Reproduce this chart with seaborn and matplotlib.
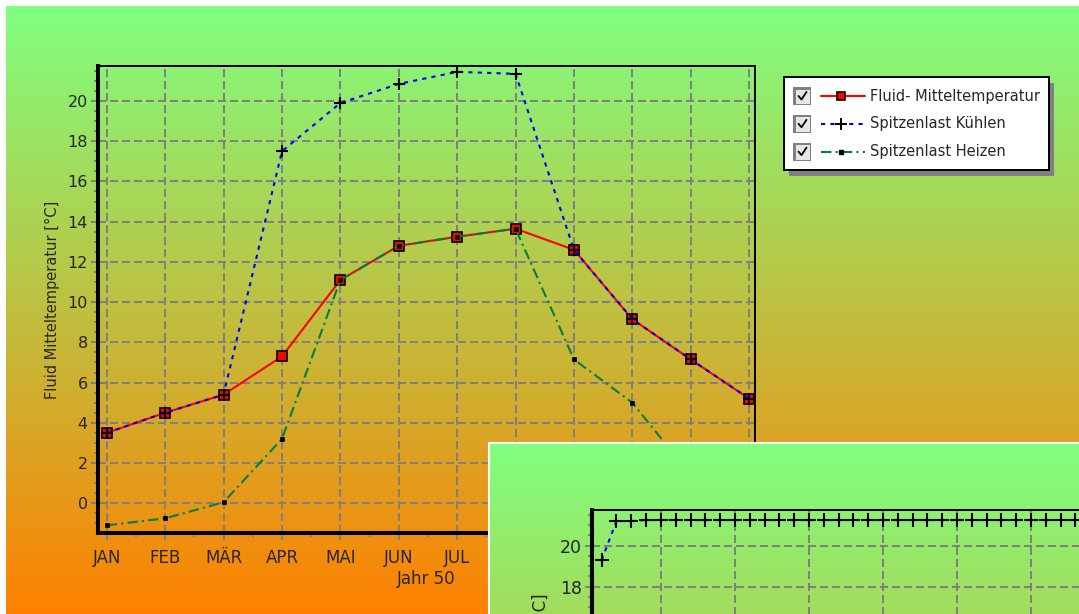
import numpy as np
import pandas as pd
import matplotlib.pyplot as plt
import seaborn as sns
from matplotlib.patches import Rectangle

# monthly values of the main chart (year 50)
months = ["JAN", "FEB", "MÄR", "APR", "MAI", "JUN", "JUL", "AUG", "SEP", "OKT", "NOV", "DEZ"]
fluid_temp = [3.5, 4.5, 5.4, 7.3, 11.1, 12.8, 13.25, 13.65, 12.6, 9.15, 7.15, 5.2]
peak_cooling = [3.5, 4.5, 5.4, 17.5, 19.9, 20.85, 21.45, 21.35, 12.6, 9.15, 7.15, 5.2]
peak_heating = [-1.1, -0.75, 0.05, 3.2, 11.1, 12.8, 13.25, 13.65, 7.15, 5.0, 1.4, -0.6]

# second chart window in front (daily peak cooling)
zoom_days = list(range(1, 35))
zoom_cooling = [19.3, 21.2, 21.2, 21.25, 21.25, 21.25, 21.25, 21.25, 21.25, 21.25,
                21.25, 21.25, 21.25, 21.25, 21.25, 21.25, 21.25, 21.25, 21.25, 21.25,
                21.25, 21.25, 21.25, 21.25, 21.25, 21.25, 21.25, 21.25, 21.25, 21.25,
                21.25, 21.25, 21.25, 21.25]

legend_labels = ["Fluid- Mitteltemperatur", "Spitzenlast Kühlen", "Spitzenlast Heizen"]

sns.set_style("ticks")
plt.rcParams["font.family"] = ["DejaVu Sans"]

W, H = 1079, 614
fig = plt.figure(figsize=(W / 100, H / 100), dpi=100)

RED, BLUE, GREEN, GRAY = "#ff0000", "#0000ff", "#008040", "#808080"
cool_ls = (0, (2, 2.5))
heat_ls = (0, (5, 2, 1, 2))


def px_axes(x0, y0, x1, y1):
    return fig.add_axes([x0 / W, 1 - y1 / H, (x1 - x0) / W, (y1 - y0) / H])


def gradient(n):
    top = np.array([128, 255, 128]) / 255
    bottom = np.array([255, 128, 0]) / 255
    t = np.linspace(0, 1, n)[:, None]
    return (top * (1 - t) + bottom * t)[:, None, :]


def style_axes(a, ysize=11.5):
    a.patch.set_alpha(0)
    a.set_axisbelow(True)
    a.grid(True, which="major", color=GRAY, linestyle=(0, (4, 2)), linewidth=1.44)
    for side, lw in [("left", 2.9), ("bottom", 2.9), ("top", 1.44), ("right", 1.44)]:
        a.spines[side].set_color("black")
        a.spines[side].set_linewidth(lw)
    a.tick_params(axis="y", which="major", length=5.3, width=1.44, color=GRAY,
                  labelsize=ysize, pad=2)
    a.tick_params(axis="y", which="minor", length=3.1, width=1.44, color=GRAY)
    a.tick_params(axis="x", which="major", length=5, width=1.44, color=GRAY,
                  labelsize=12, pad=6.3)
    a.tick_params(axis="x", which="minor", length=2.7, width=1.44, color=GRAY)


# background gradient with thin white margin
bg = px_axes(0, 0, W, H)
bg.set_axis_off()
bg.set_xlim(0, W)
bg.set_ylim(H, 0)
bg.imshow(gradient(608), extent=(6, W, H, 6), aspect="auto")

# main chart
df = pd.DataFrame({
    "pos": np.arange(len(months)),
    "fluid": fluid_temp,
    "cool": peak_cooling,
    "heat": peak_heating,
})

ax = px_axes(98, 66, 755, 533)
style_axes(ax)
sns.lineplot(data=df, x="pos", y="fluid", ax=ax, color=RED, linewidth=1.5,
             marker="s", markersize=6.5, markerfacecolor=RED, markeredgecolor="black",
             markeredgewidth=1.2, legend=False, zorder=3)
sns.lineplot(data=df, x="pos", y="cool", ax=ax, color=BLUE, linewidth=1.5,
             linestyle=cool_ls, marker="+", markersize=8.6, markeredgecolor="black",
             markeredgewidth=1.5, legend=False, zorder=4)
sns.lineplot(data=df, x="pos", y="heat", ax=ax, color=GREEN, linewidth=1.5,
             linestyle=heat_ls, marker="s", markersize=3.5, markerfacecolor="black",
             markeredgecolor="black", markeredgewidth=0.5, legend=False, zorder=5)

ax.set_xlim(-0.15, 11.1)
ax.set_ylim(-1.48, 21.74)
ax.set_xticks(df["pos"], months)
ax.set_xticks(np.arange(0.5, 11, 1), minor=True)
ax.set_yticks(np.arange(0, 21, 2))
ax.set_yticks(np.arange(-1.0, 21.6, 0.5), minor=True)
# month labels from AUG on sit under the front window
for lbl in ax.get_xticklabels()[7:]:
    lbl.set_visible(False)
ax.set_xlabel("Jahr 50", fontsize=12)
ax.xaxis.set_label_coords(0.5, -0.08)
ax.set_ylabel("Fluid Mitteltemperatur [°C]", fontsize=10.5)
ax.yaxis.set_label_coords(-0.058, 0.5)

# legend box with check boxes
lax = px_axes(780, 70, 1060, 180)
lax.set_axis_off()
lax.set_xlim(780, 1060)
lax.set_ylim(180, 70)
lax.add_patch(Rectangle((789, 83), 265, 93, facecolor=GRAY, edgecolor="none"))
lax.add_patch(Rectangle((784, 77), 265, 93, facecolor="white", edgecolor="black", linewidth=1.4))
samples = [
    dict(color=RED, linestyle="-", marker="s", markersize=5.5, markerfacecolor=RED,
         markeredgecolor="black", markeredgewidth=1.2),
    dict(color=BLUE, linestyle=cool_ls, marker="+", markersize=8, markeredgecolor="black",
         markeredgewidth=1.4),
    dict(color=GREEN, linestyle=heat_ls, marker="s", markersize=3, markerfacecolor="black",
         markeredgecolor="black"),
]
for i, (label, kw) in enumerate(zip(legend_labels, samples)):
    y = 96 + 27.8 * i
    lax.add_patch(Rectangle((793, y - 9), 18, 18, facecolor=GRAY, edgecolor="none"))
    lax.add_patch(Rectangle((795.5, y - 6.5), 14.5, 14.5, facecolor="#e6e6e6", edgecolor="none"))
    lax.plot([798.5, 801.5, 806.5], [y, y + 3.5, y - 4], color="black", linewidth=1.3)
    style = {k: v for k, v in kw.items() if not k.startswith("marker")}
    lax.plot([821, 865], [y, y], linewidth=1.5, **style)
    lax.plot([841], [y], linestyle="none", **{k: v for k, v in kw.items()
                                              if k.startswith("marker")})
    lax.text(870, y, label, ha="left", va="center", fontsize=10.5)

# second chart window overlapping the lower right
frame = px_axes(489, 443, W, H)
frame.set_xlim(0, W - 489)
frame.set_ylim(H - 443, 0)
frame.imshow(gradient(608)[:171], extent=(0, W - 489, H - 443, 0), aspect="auto")
frame.set_xticks([])
frame.set_yticks([])
for side in ["right", "bottom"]:
    frame.spines[side].set_visible(False)
for side in ["left", "top"]:
    frame.spines[side].set_color("white")
    frame.spines[side].set_linewidth(1.5)
frame.text(52, 150, "Fluid Mitteltemperatur [°C]", rotation=90, ha="center", va="top",
           fontsize=12)

iax = px_axes(592, 510, 1180, 986)
style_axes(iax, ysize=12.5)
sns.lineplot(x=zoom_days, y=zoom_cooling, ax=iax, color=BLUE, linewidth=1.5,
             linestyle=cool_ls, marker="+", markersize=9.4, markeredgecolor="black",
             markeredgewidth=1.5, legend=False, zorder=4)
iax.set_xlim(0.345, 40.07)
iax.set_ylim(-1.48, 21.74)
iax.set_xticks(np.arange(5, 41, 5))
iax.set_yticks(np.arange(0, 21, 2))
iax.set_yticks(np.arange(-1.0, 21.6, 0.5), minor=True)
iax.tick_params(axis="x", labelbottom=False)
# only the upper part of the front window is in view
for lbl in iax.get_yticklabels()[:9]:
    lbl.set_visible(False)
iax.set_xlabel("")
iax.set_ylabel("")

fig.savefig("out.png", dpi=100)
